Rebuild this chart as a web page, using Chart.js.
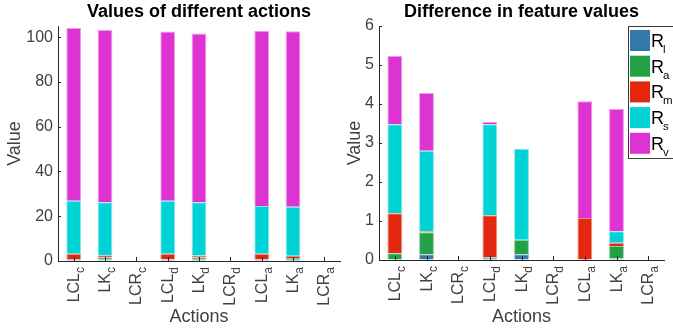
<!DOCTYPE html>
<html>
<head>
<meta charset="utf-8">
<script src="https://cdn.jsdelivr.net/npm/chart.js@4.4.1/dist/chart.umd.min.js"></script>
<style>
  body { margin: 0; background: #fff; width: 673px; height: 331px; position: relative; overflow: hidden; }
  canvas { position: absolute; top: 0; }
  #left { left: 0; }
  #right { left: 340px; }
</style>
</head>
<body>
<canvas id="left" width="341" height="331"></canvas>
<canvas id="right" width="333" height="331"></canvas>
<script>
// categories (base name + subscript)
const actions = ['LCL', 'LK', 'LCR', 'LCL', 'LK', 'LCR', 'LCL', 'LK', 'LCR'];
const actionSubs = ['c', 'c', 'c', 'd', 'd', 'd', 'a', 'a', 'a'];
const legendSubs = ['l', 'a', 'm', 's', 'v'];

// tick labels
const leftTicks = [0, 20, 40, 60, 80, 100];
const rightTicks = [0, 1, 2, 3, 4, 5, 6];

// left chart: values of different actions
const valRl = [0.6, 0.8, 0, 0.6, 0.8, 0, 0.6, 0.6, 0];
const valRa = [0.3, 0.8, 0, 0.2, 0.8, 0, 0.1, 0.7, 0];
const valRm = [2.3, 1.0, 0, 2.4, 0.9, 0, 2.5, 1.1, 0];
const valRs = [23.7, 23.6, 0, 23.7, 23.8, 0, 21.4, 21.8, 0];
const valRv = [77.2, 77.0, 0, 75.6, 75.4, 0, 78.3, 78.4, 0];

// right chart: difference in feature values
const difRl = [0, 0.15, 0, 0.05, 0.15, 0, 0, 0.04, 0];
const difRa = [0.17, 0.56, 0, 0.02, 0.37, 0, 0, 0.32, 0];
const difRm = [1.03, 0.03, 0, 1.08, 0, 0, 1.08, 0.08, 0];
const difRs = [2.28, 2.06, 0, 2.33, 2.33, 0, 0, 0.30, 0];
const difRv = [1.75, 1.48, 0, 0.06, 0, 0, 2.99, 3.13, 0];

const colors = ['#3477ab', '#22a147', '#e3280f', '#00d3d6', '#de33d3'];
const FONT = '"Liberation Sans", Arial, sans-serif';
Chart.defaults.font.family = FONT;

function lighten(hex, f) {
  const n = parseInt(hex.slice(1), 16);
  const c = [n >> 16, (n >> 8) & 255, n & 255].map(v => Math.round(v + (255 - v) * f));
  return 'rgb(' + c.join(',') + ')';
}

// title centred over the plot area (not the whole canvas)
const plotTitle = {
  id: 'plotTitle',
  afterDraw(chart, args, opts) {
    const ctx = chart.ctx, a = chart.chartArea;
    ctx.save();
    ctx.fillStyle = '#000';
    ctx.font = 'bold 18px ' + FONT;
    ctx.textAlign = 'center';
    ctx.textBaseline = 'middle';
    ctx.fillText(opts.text, (a.left + a.right) / 2, 12);
    ctx.restore();
  }
};

// rotated x labels with subscripts
const subLabels = {
  id: 'subLabels',
  afterDraw(chart) {
    const ctx = chart.ctx, xs = chart.scales.x;
    ctx.save();
    ctx.fillStyle = '#404040';
    ctx.textBaseline = 'alphabetic';
    actions.forEach((name, i) => {
      const x = xs.getPixelForTick(i);
      ctx.save();
      ctx.translate(x, chart.chartArea.bottom + 6);
      ctx.rotate(-Math.PI / 2);
      ctx.font = '12px ' + FONT;
      const ws = ctx.measureText(actionSubs[i]).width;
      ctx.font = '16px ' + FONT;
      const wm = ctx.measureText(name).width;
      ctx.fillText(name, -(wm + ws), 5);
      ctx.font = '12px ' + FONT;
      ctx.fillText(actionSubs[i], -ws, 10);
      ctx.restore();
    });
    ctx.restore();
  }
};

// small inward tick marks like the original
const inwardTicks = {
  id: 'inwardTicks',
  afterDatasetsDraw(chart) {
    const { ctx, chartArea: a, scales: { x, y } } = chart;
    ctx.save();
    ctx.strokeStyle = '#262626';
    ctx.lineWidth = 1;
    ctx.beginPath();
    y.ticks.forEach(t => {
      const py = Math.round(y.getPixelForValue(t.value)) + 0.5;
      ctx.moveTo(a.left, py); ctx.lineTo(a.left + 3, py);
    });
    x.ticks.forEach((t, i) => {
      const px = Math.round(x.getPixelForTick(i)) + 0.5;
      ctx.moveTo(px, a.bottom); ctx.lineTo(px, a.bottom - 4);
    });
    ctx.stroke();
    ctx.restore();
  }
};

// legend box with subscripts (right chart only)
const subLegend = {
  id: 'subLegend',
  afterDraw(chart) {
    const ctx = chart.ctx;
    const bx = 288, by = 26, bh = 132;
    ctx.save();
    ctx.fillStyle = '#fff';
    ctx.fillRect(bx, by, 60, bh);
    ctx.strokeStyle = '#3a3a3a';
    ctx.lineWidth = 1;
    ctx.strokeRect(bx + 0.5, by + 0.5, 60, bh);
    chart.data.datasets.forEach((ds, i) => {
      const sy = by + 4 + i * 25.7;
      ctx.fillStyle = ds.backgroundColor;
      ctx.fillRect(bx + 2, sy, 20, 21);
      ctx.fillStyle = '#000';
      ctx.font = '18px ' + FONT;
      ctx.fillText('R', bx + 23, sy + 17);
      ctx.font = '11.5px ' + FONT;
      ctx.fillText(legendSubs[i], bx + 35, sy + 23);
    });
    ctx.restore();
  }
};

function makeChart(id, title, series, yMax, yTicks, padRight, xHeight, yWidth, extraPlugins) {
  return new Chart(document.getElementById(id), {
    type: 'bar',
    data: {
      labels: actions.map((a, i) => a + actionSubs[i]),
      datasets: series.map((d, i) => ({
        label: 'R' + legendSubs[i],
        data: d,
        backgroundColor: colors[i],
        borderColor: lighten(colors[i], 0.5),
        borderWidth: 1,
        barPercentage: 0.47,
        categoryPercentage: 1
      }))
    },
    options: {
      responsive: false,
      animation: false,
      devicePixelRatio: 1,
      layout: { padding: { left: 0, right: padRight, top: 26, bottom: 0 } },
      plugins: {
        legend: { display: false },
        tooltip: { enabled: false },
        title: { display: false },
        plotTitle: { text: title }
      },
      scales: {
        x: {
          stacked: true,
          grid: { display: true, drawOnChartArea: false, drawTicks: false },
          border: { display: true, color: '#262626', width: 1 },
          ticks: { display: false },
          title: { display: true, text: 'Actions', color: '#404040', font: { size: 18 }, padding: { top: 0, bottom: 3 } },
          afterFit: s => { s.height = xHeight; }
        },
        y: {
          stacked: true,
          min: 0,
          max: yMax,
          grid: { display: true, drawOnChartArea: false, drawTicks: false },
          border: { display: true, color: '#262626', width: 1 },
          ticks: { color: '#404040', font: { size: 16 }, padding: 5 },
          afterBuildTicks: s => { s.ticks = yTicks.map(v => ({ value: v })); },
          title: { display: true, text: 'Value', color: '#404040', font: { size: 18 }, padding: { top: 4, bottom: 0 } },
          afterFit: s => { s.width = yWidth; }
        }
      }
    },
    plugins: [inwardTicks, subLabels, plotTitle].concat(extraPlugins)
  });
}

makeChart('left', 'Values of different actions', [valRl, valRa, valRm, valRs, valRv], 105, leftTicks, 1, 70, 58, []);
makeChart('right', 'Difference in feature values', [difRl, difRa, difRm, difRs, difRv], 6, rightTicks, 9, 71, 39, [subLegend]);
</script>
</body>
</html>
